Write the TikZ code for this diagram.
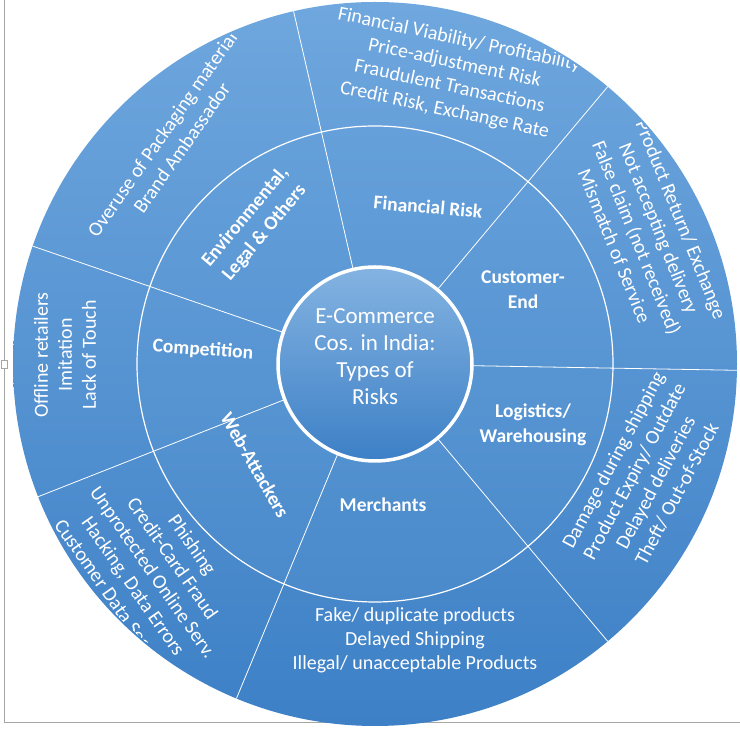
\documentclass[tikz,border=0pt]{standalone}
\usepackage{fontspec}
\setmainfont{Carlito}
\usetikzlibrary{calc}
\begin{document}
\begin{tikzpicture}[x=1pt,y=1pt,
  outer/.style={text=white,align=center,inner sep=0pt,font=\fontsize{20}{24}\selectfont},
  mid/.style={text=white,align=center,inner sep=0pt,font=\bfseries\fontsize{19.5}{25}\selectfont},
  sep/.style={draw=white,line width=0.8pt}]
\useasboundingbox (0,0) rectangle (740,733);
\definecolor{blite}{HTML}{6FA7DE}
\definecolor{bdark}{HTML}{3D80C6}
\definecolor{mlite}{HTML}{65A0DA}
\definecolor{mdark}{HTML}{4A8ACB}
\coordinate (c) at (375,369);
% frame of the picture
\draw[gray!70,line width=0.6pt] (4,733) -- (4,11) -- (740,11);
\draw[gray!70,fill=white] (1,365) rectangle (7,373);
\draw[gray!70,fill=white] (371,8) rectangle (379,14);
% rings
\shade[top color=blite,bottom color=bdark,even odd rule] (c) circle (362) (c) circle (238);
\shade[top color=mlite,bottom color=mdark,even odd rule] (c) circle (238) (c) circle (97);
\draw[white,line width=1.2pt] (c) circle (238);
\foreach \a in {161,201.5,247.5,310,359,50,103}
  \draw[sep] ($(c)+(\a:97)$) -- ($(c)+(\a:362)$);
\shade[top color=mlite!80!white,bottom color=bdark,draw=white,line width=3.5pt] (c) circle (97);
% texts
\begin{scope}
\clip (c) circle (360);
\node[mid,rotate=-5] (fin) at (428,526) {Financial Risk};
\node[mid,rotate=50] (env) at (255,508) {Environmental,\\Legal \& Others};
\node[mid,rotate=-4] (comp) at (203,383) {Competition};
\node[mid,rotate=-60] (web) at (255,268) {Web-Attackers};
\node[mid] (mer) at (383,228) {Merchants};
\node[mid] (log) at (533,308) {Logistics/\\Warehousing};
\node[mid] (cust) at (523,443) {Customer-\\End};
\node[text=white,align=center,font=\fontsize{23}{27}\selectfont] (core) at (375,376)
  {E-Commerce\\Cos. in India:\\Types of\\Risks};
\node[outer,rotate=-12] (o1) at (452,658) {Financial Viability/ Profitability\\Price-adjustment Risk\\Fraudulent Transactions\\Credit Risk, Exchange Rate};
\node[outer,rotate=-68] (o2) at (648,500) {Product Return/ Exchange\\Not accepting delivery\\False claim (not received)\\Mismatch of Service};
\node[outer,rotate=62] (o3) at (645,256) {Damage during shipping\\Product Expiry/ Outdate\\Delayed deliveries\\Theft/ Out-of-Stock};
\node[outer] (o4) at (415,93) {Fake/ duplicate products\\Delayed Shipping\\Illegal/ unacceptable Products};
\node[outer,rotate=-55] (o5) at (152,160) {Phishing\\Credit-Card Fraud\\Unprotected Online Serv.\\Hacking, Data Errors\\Customer Data Security};
\node[outer,rotate=90] (o6) at (65,378) {Offline retailers\\Imitation\\Lack of Touch};
\node[outer,rotate=55] (o7) at (172,592) {Overuse of Packaging material\\Brand Ambassador};
\end{scope}
\end{tikzpicture}
\end{document}
